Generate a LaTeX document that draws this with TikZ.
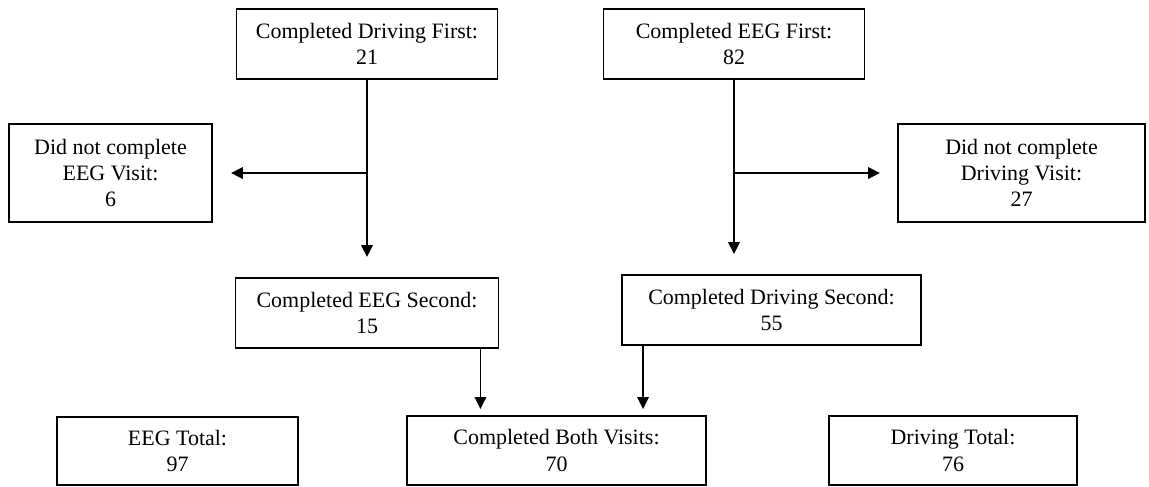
\documentclass[tikz,border=0pt]{standalone}
\usepackage{fontspec}
\setmainfont{Liberation Serif}
\usepackage{tikz}
\usetikzlibrary{
  positioning,
  calc,
  arrows.meta
}
\tikzstyle{box}=[draw, line width=1.1pt, align=center, inner sep=2pt, font=\fontsize{12.5}{15}\selectfont]
\tikzstyle{flow}=[-{Triangle[length=2.4mm, width=2.3mm]}, line width=1.1pt]

\begin{document}
\begin{tikzpicture}
    \useasboundingbox (0,0) rectangle (22.98,9.72);

    % 上段
    \node[box, minimum width=5.22cm, minimum height=1.40cm] (drivefirst) at (7.34,8.84) {Completed Driving First:\\21};
    \node[box, minimum width=5.22cm, minimum height=1.40cm] (eegfirst) at (14.68,8.84) {Completed EEG First:\\82};

    % 脱落
    \node[box, minimum width=4.06cm, minimum height=1.96cm] (noeeg) at (2.21,6.26) {Did not complete\\EEG Visit:\\6};
    \node[box, minimum width=4.94cm, minimum height=1.96cm] (nodrive) at (20.43,6.26) {Did not complete\\Driving Visit:\\27};

    % 二回目
    \node[box, minimum width=5.26cm, minimum height=1.40cm] (eegsecond) at (7.34,3.46) {Completed EEG Second:\\15};
    \node[box, minimum width=5.98cm, minimum height=1.40cm] (drivesecond) at (15.43,3.52) {Completed Driving Second:\\55};

    % 合計
    \node[box, minimum width=4.82cm, minimum height=1.36cm] (eegtotal) at (3.55,0.70) {EEG Total:\\97};
    \node[box, minimum width=5.98cm, minimum height=1.38cm] (both) at (11.13,0.71) {Completed Both Visits:\\70};
    \node[box, minimum width=4.96cm, minimum height=1.38cm] (drivetotal) at (19.06,0.71) {Driving Total:\\76};

    % 矢印
    \draw[flow] (drivefirst.south) -- ([yshift=4mm]eegsecond.north);
    \draw[flow] (drivefirst.south |- noeeg.east) -- ([xshift=3.6mm]noeeg.east);
    \draw[flow] (eegfirst.south) -- ([yshift=4mm, xshift=-0.75cm]drivesecond.north);
    \draw[flow] (eegfirst.south |- nodrive.west) -- ([xshift=-3.4mm]nodrive.west);

    \coordinate (eh) at ([xshift=-3.8mm]eegsecond.south east);
    \coordinate (fh) at ([xshift=4.4mm]drivesecond.south west);
    \draw[flow, shorten >=1.2mm] (eh) -- (eh |- both.north);
    \draw[flow, shorten >=1.2mm] (fh) -- (fh |- both.north);
\end{tikzpicture}
\end{document}
